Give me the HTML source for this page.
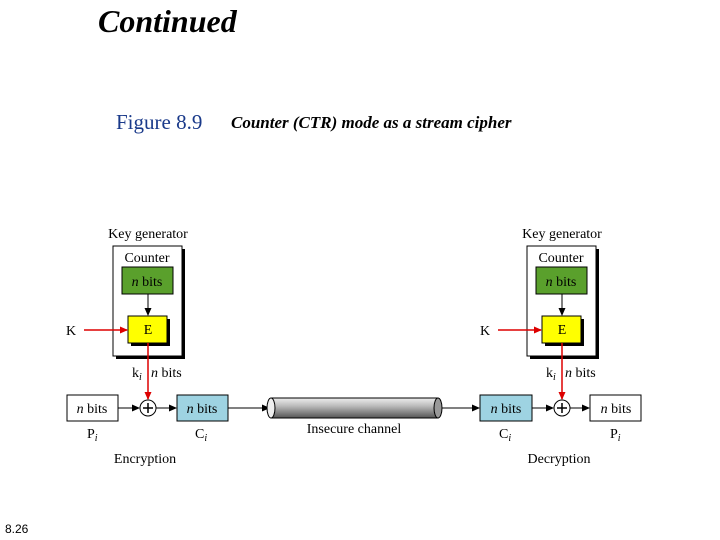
<!DOCTYPE html>
<html><head><style>
body{margin:0;width:720px;height:540px;background:#fff;position:relative;overflow:hidden;font-family:"Liberation Serif",serif}
.t{position:absolute;white-space:nowrap}
</style></head><body>
<div class="t" style="left:98px;top:3px;font-size:32px;font-style:italic;font-weight:bold">Continued</div>
<div class="t" style="left:116px;top:110px;font-size:21px;color:#1a3a8a">Figure 8.9</div>
<div class="t" style="left:231px;top:113px;font-size:17px;font-style:italic;font-weight:bold">Counter (CTR) mode as a stream cipher</div>
<div class="t" style="left:5px;top:522px;font-size:12px;font-family:'Liberation Sans',sans-serif">8.26</div>
<svg width="720" height="540" style="position:absolute;left:0;top:0" font-family="Liberation Serif" font-size="14">
<defs>
<marker id="ab" markerWidth="8" markerHeight="8" refX="7" refY="4" orient="auto" markerUnits="userSpaceOnUse"><path d="M0,0.5L8,4L0,7.5z" fill="#000"/></marker>
<marker id="ar" markerWidth="8" markerHeight="8" refX="7" refY="4" orient="auto" markerUnits="userSpaceOnUse"><path d="M0,0.5L8,4L0,7.5z" fill="#d00"/></marker>
<linearGradient id="cyl" x1="0" y1="0" x2="0" y2="1"><stop offset="0" stop-color="#eee"/><stop offset="0.4" stop-color="#bbb"/><stop offset="1" stop-color="#555"/></linearGradient>
</defs>
<g id="L">
<text x="148" y="238" text-anchor="middle">Key generator</text>
<rect x="116" y="249" width="69" height="110" fill="#000"/>
<rect x="113" y="246" width="69" height="110" fill="#fff" stroke="#000"/>
<text x="147" y="262" text-anchor="middle">Counter</text>
<rect x="122" y="267" width="51" height="27" fill="#5aa02c" stroke="#000"/>
<text x="147" y="286" text-anchor="middle"><tspan font-style="italic">n</tspan> bits</text>
<line x1="148" y1="294" x2="148" y2="315" stroke="#000" marker-end="url(#ab)"/>
<rect x="131" y="319" width="39" height="27" fill="#000"/>
<rect x="128" y="316" width="39" height="27" fill="#ff0" stroke="#000"/>
<text x="148" y="334" text-anchor="middle">E</text>
<text x="66" y="335">K</text>
<line x1="84" y1="330" x2="127" y2="330" stroke="#d00" stroke-width="1.5" marker-end="url(#ar)"/>
<line x1="148" y1="343" x2="148" y2="399" stroke="#d00" stroke-width="1.5" marker-end="url(#ar)"/>
<text x="132" y="377">k<tspan font-size="10" font-style="italic" dy="3">i</tspan><tspan dy="-3" x="151" font-style="italic">n</tspan> bits</text>
</g>
<rect x="67" y="395" width="51" height="26" fill="#fff" stroke="#000"/>
<text x="92" y="413" text-anchor="middle"><tspan font-style="italic">n</tspan> bits</text>
<line x1="118" y1="408" x2="139" y2="408" stroke="#000" marker-end="url(#ab)"/>
<circle cx="148" cy="408" r="8" fill="#fff" stroke="#000"/>
<path d="M143,408h10M148,403v10" stroke="#000" stroke-width="1.5"/>
<line x1="156" y1="408" x2="176" y2="408" stroke="#000" marker-end="url(#ab)"/>
<rect x="177" y="395" width="51" height="26" fill="#9ed3e2" stroke="#000"/>
<text x="202" y="413" text-anchor="middle"><tspan font-style="italic">n</tspan> bits</text>
<text x="87" y="438">P<tspan font-size="10" font-style="italic" dy="3">i</tspan></text>
<text x="195" y="438">C<tspan font-size="10" font-style="italic" dy="3">i</tspan></text>
<text x="145" y="463" text-anchor="middle">Encryption</text>
<line x1="228" y1="408" x2="269" y2="408" stroke="#000" marker-end="url(#ab)"/>
<rect x="271" y="398" width="167" height="20" fill="url(#cyl)" stroke="#000"/>
<ellipse cx="438" cy="408" rx="4" ry="10" fill="#999" stroke="#000"/>
<ellipse cx="271" cy="408" rx="4" ry="10" fill="#eee" stroke="#000"/>
<text x="354" y="433" text-anchor="middle">Insecure channel</text>
<line x1="442" y1="408" x2="479" y2="408" stroke="#000" marker-end="url(#ab)"/>
<g transform="translate(414,0)">
<text x="148" y="238" text-anchor="middle">Key generator</text>
<rect x="116" y="249" width="69" height="110" fill="#000"/>
<rect x="113" y="246" width="69" height="110" fill="#fff" stroke="#000"/>
<text x="147" y="262" text-anchor="middle">Counter</text>
<rect x="122" y="267" width="51" height="27" fill="#5aa02c" stroke="#000"/>
<text x="147" y="286" text-anchor="middle"><tspan font-style="italic">n</tspan> bits</text>
<line x1="148" y1="294" x2="148" y2="315" stroke="#000" marker-end="url(#ab)"/>
<rect x="131" y="319" width="39" height="27" fill="#000"/>
<rect x="128" y="316" width="39" height="27" fill="#ff0" stroke="#000"/>
<text x="148" y="334" text-anchor="middle">E</text>
<text x="66" y="335">K</text>
<line x1="84" y1="330" x2="127" y2="330" stroke="#d00" stroke-width="1.5" marker-end="url(#ar)"/>
<line x1="148" y1="343" x2="148" y2="399" stroke="#d00" stroke-width="1.5" marker-end="url(#ar)"/>
<text x="132" y="377">k<tspan font-size="10" font-style="italic" dy="3">i</tspan><tspan dy="-3" x="151" font-style="italic">n</tspan> bits</text>
</g>
<rect x="480" y="395" width="52" height="26" fill="#9ed3e2" stroke="#000"/>
<text x="506" y="413" text-anchor="middle"><tspan font-style="italic">n</tspan> bits</text>
<line x1="532" y1="408" x2="553" y2="408" stroke="#000" marker-end="url(#ab)"/>
<circle cx="562" cy="408" r="8" fill="#fff" stroke="#000"/>
<path d="M557,408h10M562,403v10" stroke="#000" stroke-width="1.5"/>
<line x1="570" y1="408" x2="589" y2="408" stroke="#000" marker-end="url(#ab)"/>
<rect x="590" y="395" width="51" height="26" fill="#fff" stroke="#000"/>
<text x="616" y="413" text-anchor="middle"><tspan font-style="italic">n</tspan> bits</text>
<text x="499" y="438">C<tspan font-size="10" font-style="italic" dy="3">i</tspan></text>
<text x="610" y="438">P<tspan font-size="10" font-style="italic" dy="3">i</tspan></text>
<text x="559" y="463" text-anchor="middle">Decryption</text>
</svg>
</body></html>
